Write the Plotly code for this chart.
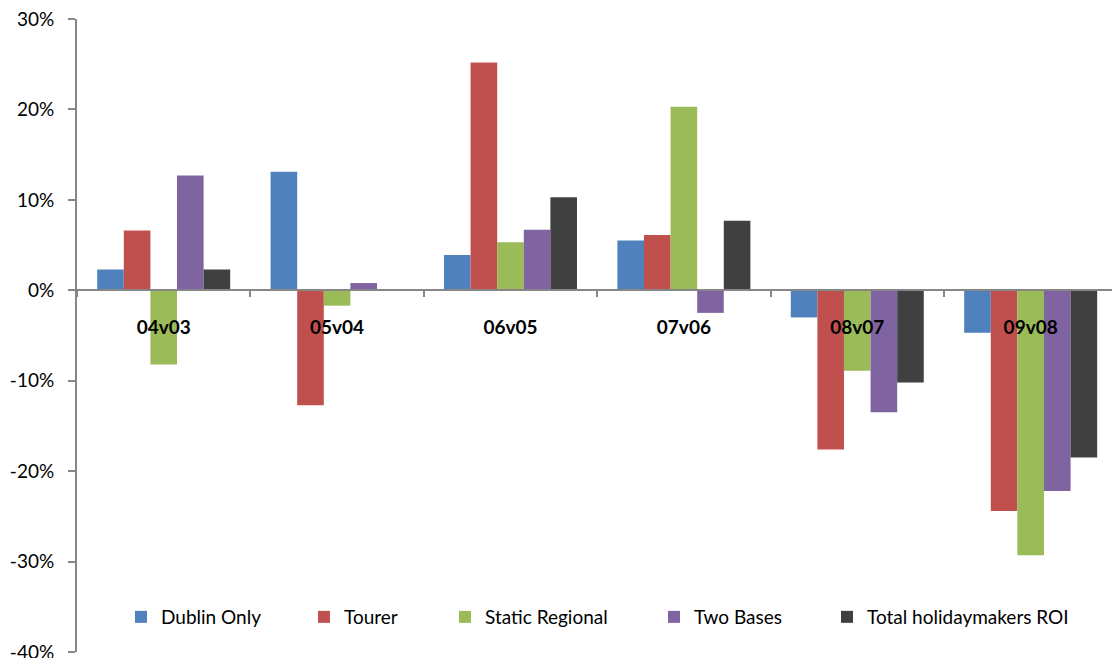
import plotly.graph_objects as go

# Year-on-year change in holidaymaker numbers by segment
periods = ["04v03", "05v04", "06v05", "07v06", "08v07", "09v08"]

dublin_only = [2.3, 13.1, 3.9, 5.5, -3.0, -4.7]
tourer = [6.6, -12.7, 25.2, 6.1, -17.6, -24.4]
static_regional = [-8.2, -1.7, 5.3, 20.3, -8.9, -29.3]
two_bases = [12.7, 0.8, 6.7, -2.5, -13.5, -22.2]
total_roi = [2.3, 0.0, 10.3, 7.7, -10.2, -18.5]

y_ticks = [30, 20, 10, 0, -10, -20, -30, -40]
y_tick_labels = ["30%", "20%", "10%", "0%", "-10%", "-20%", "-30%", "-40%"]

series = [
    ("Dublin Only", dublin_only, "#4F81BD"),
    ("Tourer", tourer, "#C0504D"),
    ("Static Regional", static_regional, "#9BBB59"),
    ("Two Bases", two_bases, "#8064A2"),
    ("Total holidaymakers ROI", total_roi, "#404040"),
]

# left edge (px) of each legend entry
legend_x_px = [121, 304, 445, 654, 827]

W, H = 1112, 658
FONT = "Lato"
AXIS_GREY = "#868686"

fig = go.Figure()
layout_legends = {}
for i, (name, vals, color) in enumerate(series):
    key = "legend" if i == 0 else f"legend{i + 1}"
    fig.add_trace(go.Bar(
        name=name,
        x=periods,
        y=vals,
        marker=dict(color=color, line=dict(width=0)),
        legend=key,
        showlegend=True,
    ))
    layout_legends[key] = dict(
        xref="container", yref="container",
        x=legend_x_px[i] / W, y=1 - 617 / H,
        xanchor="left", yanchor="middle",
        bgcolor="rgba(0,0,0,0)",
        font=dict(family=FONT, size=19, color="#000000"),
        itemwidth=30,
        visible=True,
    )

fig.update_layout(
    width=W, height=H,
    showlegend=True,
    margin=dict(l=77, r=0, t=19, b=6, autoexpand=False),
    paper_bgcolor="white", plot_bgcolor="white",
    barmode="group", bargap=0.233, bargroupgap=0,
    font=dict(family=FONT, size=19, color="#000000"),
    **layout_legends,
)

fig.update_yaxes(
    range=[-40, 30], tickmode="array",
    tickvals=y_ticks, ticktext=y_tick_labels,
    showgrid=False, zeroline=False, automargin=False,
    showline=True, linecolor=AXIS_GREY, linewidth=2,
    ticks="outside", ticklen=7, tickcolor=AXIS_GREY, tickwidth=1.5,
    ticklabelstandoff=10, ticklabeloverflow="allow",
    tickfont=dict(family=FONT, size=19, color="#000000"),
)

fig.update_xaxes(
    type="category", range=[-0.5, 5.469],
    anchor="free", position=40 / 70,
    showgrid=False, zeroline=False, automargin=False,
    showline=True, linecolor=AXIS_GREY, linewidth=2,
    ticks="outside", ticklen=6, tickcolor=AXIS_GREY, tickwidth=1.5,
    tickson="boundaries", tickangle=0,
    ticklabelstandoff=20,
    tickfont=dict(family=FONT, size=19, color="#000000", weight="bold"),
)

fig.write_html("out.html")
